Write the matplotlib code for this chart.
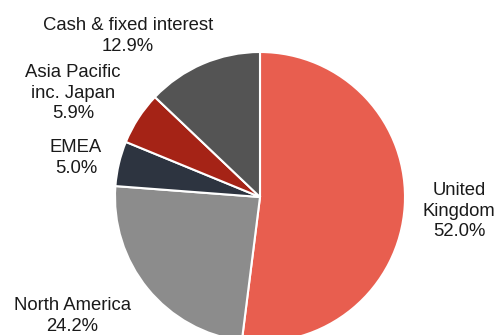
import matplotlib
matplotlib.use("Agg")
import matplotlib.pyplot as plt

# Regional allocation (%)
regions = ["United\nKingdom", "North America", "EMEA", "Asia Pacific\ninc. Japan", "Cash & fixed interest"]
weights = [52.0, 24.2, 5.0, 5.9, 12.9]
colors = ["#E85E4F", "#8C8C8C", "#2D3440", "#A52316", "#545454"]

# label centres in pixel space (x, y from top)
label_pos = [(459, 211), (72, 316), (76, 158), (73, 93), (128, 36)]

W, H = 498, 335
fig = plt.figure(figsize=(W / 100, H / 100), dpi=100)
ax = fig.add_axes([0, 0, 1, 1])

ax.pie(weights, colors=colors, startangle=90, counterclock=False,
       center=(260, H - 197), radius=145,
       wedgeprops=dict(edgecolor="white", linewidth=1.5))

ax.set_xlim(0, W)
ax.set_ylim(0, H)
ax.set_aspect("equal")
ax.axis("off")

for name, val, (x, y) in zip(regions, weights, label_pos):
    ax.text(x, H - y, f"{name}\n{val:.1f}%", ha="center", va="center",
            fontsize=13.3, family="Liberation Sans", color="#1a1a1a",
            linespacing=1.25)

fig.savefig("out.png", dpi=100)
